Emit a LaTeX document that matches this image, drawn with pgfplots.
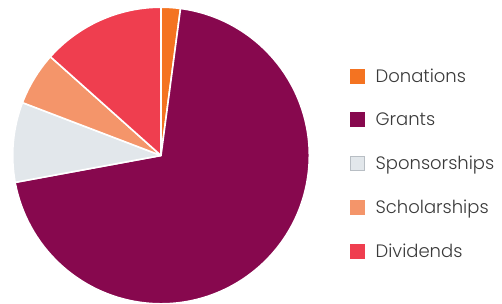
\documentclass[border=0pt]{standalone}
\usepackage{pgfplots}
\pgfplotsset{compat=1.18}
\usepackage{fontspec}
\setmainfont{Poppins}[UprightFont=* Light]
\definecolor{cDon}{HTML}{F47321}
\definecolor{cGra}{HTML}{87084E}
\definecolor{cSpo}{HTML}{E2E7EB}
\definecolor{cSpoEdge}{HTML}{B8BEC4}
\definecolor{cSch}{HTML}{F4956A}
\definecolor{cDiv}{HTML}{EF3E4F}
\definecolor{textgray}{HTML}{3A3A3A}
% slice: start (percent), value (percent), colour
\newcommand\slice[3]{%
  \pgfmathsetmacro\aS{90-3.6*#1}%
  \pgfmathsetmacro\aE{90-3.6*(#1+#2)}%
  \edef\tmp{\noexpand\filldraw[fill=#3, draw=white, line width=1.6bp, line join=round]
    (axis cs:161,147.5) -- ++(\aS:148.3bp) arc[start angle=\aS, end angle=\aE, radius=148.3bp] -- cycle;}%
  \tmp}
\begin{document}
\begin{tikzpicture}
\begin{axis}[x=1bp, y=1bp, xmin=0, xmax=502, ymin=0, ymax=303,
  hide axis, clip=false,
  legend cell align=left,
  legend style={at={(0.69721,0.77228)}, anchor=north west, draw=none, fill=none,
    inner sep=0pt, outer sep=0pt, row sep=29.6bp,
    font=\fontsize{18bp}{20bp}\selectfont,
    nodes={inner sep=0pt, text height=13bp, text depth=1bp, text=textgray},
    /tikz/every odd column/.style={column sep=11bp}},
  legend image code/.code={\fill[#1] (0bp,-7bp) rectangle (14bp,7bp);}]
  \coordinate (bbsw) at (axis cs:0,0);
  \coordinate (bbne) at (axis cs:502,303);
  % values in percent: Donations 2.1, Grants 70, Sponsorships 8.7, Scholarships 5.8, Dividends 13.4
  \slice{0}{2.1}{cDon}
  \slice{2.1}{70}{cGra}
  \slice{72.1}{8.7}{cSpo}
  \slice{80.8}{5.8}{cSch}
  \slice{86.6}{13.4}{cDiv}
  \addlegendimage{fill=cDon, draw=cDon, line width=0pt}\addlegendentry{Donations}
  \addlegendimage{fill=cGra, draw=cGra, line width=0pt}\addlegendentry{Grants}
  \addlegendimage{fill=cSpo, draw=cSpoEdge, line width=0.6bp}\addlegendentry{Sponsorships}
  \addlegendimage{fill=cSch, draw=cSch, line width=0pt}\addlegendentry{Scholarships}
  \addlegendimage{fill=cDiv, draw=cDiv, line width=0pt}\addlegendentry{Dividends}
\end{axis}
\pgfresetboundingbox
\useasboundingbox (bbsw) rectangle (bbne);
\end{tikzpicture}
\end{document}
